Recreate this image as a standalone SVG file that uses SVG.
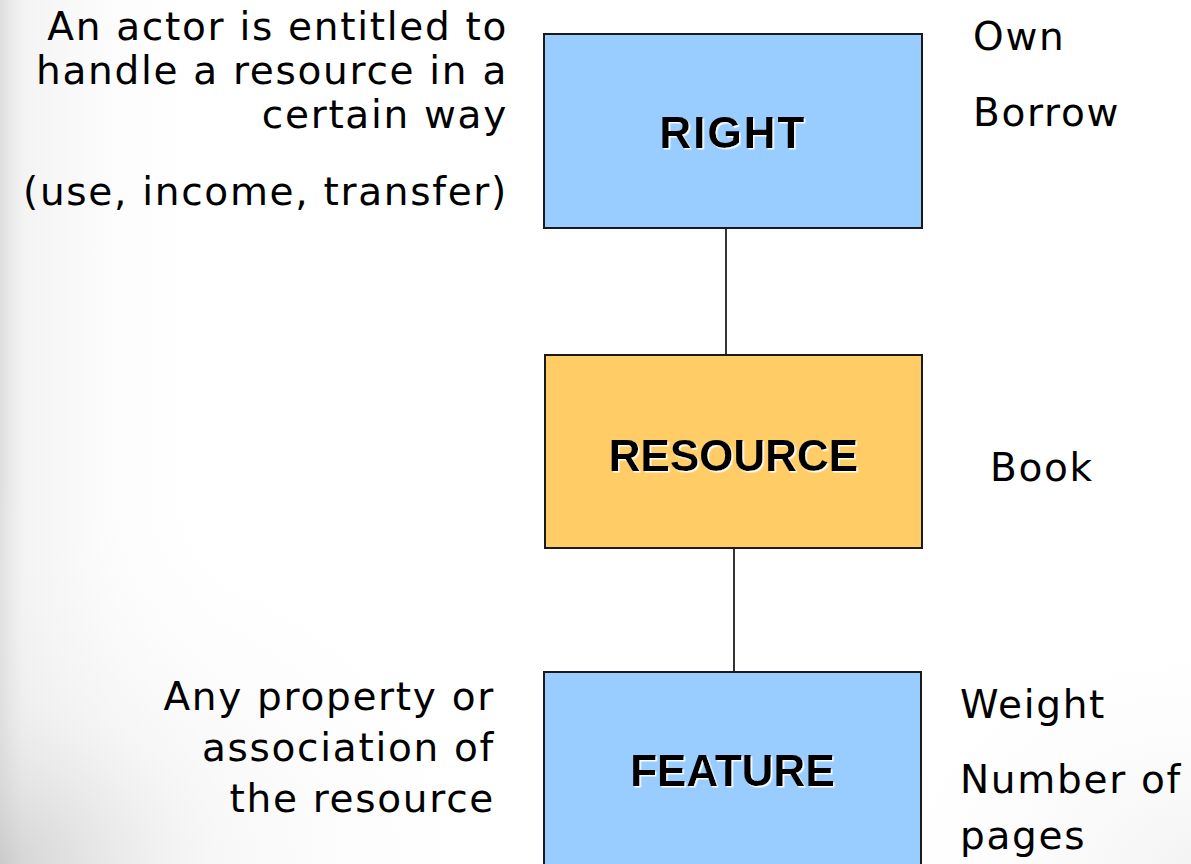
<svg xmlns="http://www.w3.org/2000/svg" width="1191" height="864" viewBox="0 0 1191 864">
  <defs>
    <linearGradient id="bgLeft" x1="0" y1="0" x2="1" y2="0">
      <stop offset="0" stop-color="#d6d6d6" stop-opacity="0.8"/>
      <stop offset="0.02" stop-color="#e8e8e8" stop-opacity="0.5"/>
      <stop offset="0.1" stop-color="#f6f6f6" stop-opacity="0.3"/>
      <stop offset="0.2" stop-color="#ffffff" stop-opacity="0"/>
    </linearGradient>
    <radialGradient id="bgCorner" cx="0" cy="1" r="0.45">
      <stop offset="0" stop-color="#bdbdbd" stop-opacity="0.6"/>
      <stop offset="0.4" stop-color="#e0e0e0" stop-opacity="0.25"/>
      <stop offset="1" stop-color="#ffffff" stop-opacity="0"/>
    </radialGradient>
    <radialGradient id="bgRight" cx="1" cy="1" r="0.3">
      <stop offset="0" stop-color="#e8e8e8" stop-opacity="0.5"/>
      <stop offset="1" stop-color="#ffffff" stop-opacity="0"/>
    </radialGradient>
    <filter id="whiteShadow" x="-5%" y="-10%" width="110%" height="130%">
      <feDropShadow dx="1.5" dy="1.5" stdDeviation="0" flood-color="#ffffff" flood-opacity="1"/>
    </filter>
  </defs>
  <style>
    .body { font-family: "DejaVu Sans", Verdana, sans-serif; font-size: 39px; letter-spacing: 1.7px; fill: #000000; }
    .end { text-anchor: end; }
    .label { font-family: "Liberation Sans", Arial, sans-serif; font-weight: bold; font-size: 44px; fill: #000000; text-anchor: middle; filter: url(#whiteShadow); }
    .box { stroke: #1a1a1a; stroke-width: 2; }
    .blue { fill: #99ccff; }
    .orange { fill: #ffcc66; }
    .conn { stroke: #000000; stroke-width: 1.6; fill: none; }
  </style>

  <rect x="0" y="0" width="1191" height="864" fill="#ffffff"/>
  <rect x="0" y="0" width="1191" height="864" fill="url(#bgLeft)"/>
  <rect x="0" y="0" width="1191" height="864" fill="url(#bgCorner)"/>
  <rect x="0" y="0" width="1191" height="864" fill="url(#bgRight)"/>

  <g id="connectors">
    <line class="conn" x1="726" y1="229" x2="726" y2="355"/>
    <line class="conn" x1="734" y1="549" x2="734" y2="672"/>
  </g>

  <g id="node-right">
    <rect class="box blue" x="544" y="34" width="378" height="194"/>
    <text class="label" x="733" y="148" letter-spacing="2">RIGHT</text>
  </g>

  <g id="node-resource">
    <rect class="box orange" x="545" y="355" width="377" height="193"/>
    <text class="label" x="733.5" y="471">RESOURCE</text>
  </g>

  <g id="node-feature">
    <rect class="box blue" x="544" y="672" width="377" height="210"/>
    <text class="label" x="732.5" y="786">FEATURE</text>
  </g>

  <g id="right-desc">
    <text class="body end" x="508" y="40">An actor is entitled to</text>
    <text class="body end" x="508" y="84">handle a resource in a</text>
    <text class="body end" x="508" y="128">certain way</text>
    <text class="body end" x="508" y="205">(use, income, transfer)</text>
  </g>

  <g id="right-examples">
    <text class="body" x="973" y="50">Own</text>
    <text class="body" x="973" y="126">Borrow</text>
  </g>

  <g id="resource-example">
    <text class="body" x="990" y="481">Book</text>
  </g>

  <g id="feature-desc">
    <text class="body end" x="495" y="710">Any property or</text>
    <text class="body end" x="495" y="761">association of</text>
    <text class="body end" x="495" y="812">the resource</text>
  </g>

  <g id="feature-examples">
    <text class="body" x="960" y="718">Weight</text>
    <text class="body" x="960" y="793">Number of</text>
    <text class="body" x="960" y="849">pages</text>
  </g>
</svg>
